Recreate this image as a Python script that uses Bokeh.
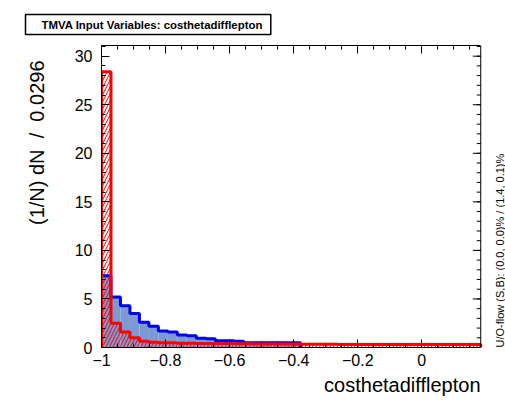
import numpy as np
from bokeh.plotting import figure
from bokeh.models import LinearAxis, FixedTicker, Range1d, Title, Label
from bokeh.embed import file_html
from bokeh.resources import INLINE

# ---- data ----
bin_lo = -1.0
bin_width = 0.0296
signal = [7.4, 5.2, 4.3, 3.5, 2.6, 2.2, 1.7, 1.6, 1.3, 1.2,
          0.95, 0.9, 0.7, 0.7, 0.65, 0.5, 0.5, 0.5, 0.5, 0.5,
          0.5, 0.0, 0.0, 0.0, 0.0, 0.0, 0.0, 0.0, 0.0, 0.0,
          0.0, 0.0, 0.0, 0.0, 0.0, 0.0, 0.0, 0.0, 0.0, 0.0]
background = [28.4, 2.5, 1.6, 1.0, 0.65, 0.55, 0.5, 0.5, 0.45, 0.45,
              0.4, 0.4, 0.4, 0.4, 0.38, 0.38, 0.36, 0.36, 0.35, 0.35,
              0.35, 0.34, 0.34, 0.33, 0.33, 0.32, 0.32, 0.32, 0.31, 0.31,
              0.3, 0.3, 0.3, 0.3, 0.3, 0.3, 0.3, 0.3, 0.3, 0.3]
x_ticks = [-1.0, -0.8, -0.6, -0.4, -0.2, 0.0]
x_tick_labels = ["\u22121", "\u22120.8", "\u22120.6", "\u22120.4", "\u22120.2", "0"]
y_ticks = [0, 5, 10, 15, 20, 25, 30]
y_tick_labels = ["0", "5", "10", "15", "20", "25", "30"]
title_text = "TMVA Input Variables: costhetadifflepton"
x_title = "costhetadifflepton"
y_title = "(1/N) dN \u00a0/ \u00a00.0296"
flow_text = "U/O-flow (S,B): (0.0, 0.0)% / (1.4, 0.1)%"

n = len(signal)
edges = bin_lo + bin_width * np.arange(n + 1)
x_max = edges[-1]
y_max = 31.1

# frame geometry (pixels): histogram area 383 px wide, extra 25 px strip on the right
hist_px = 383.0
strip_px = 25.0
x_span = x_max - bin_lo
x_end = x_max + x_span * strip_px / hist_px
dx_major = x_span * 8 / hist_px
dx_minor = x_span * 4 / hist_px

p = figure(width=505, height=400, output_backend="svg", toolbar_location=None,
           x_range=Range1d(bin_lo, x_end), y_range=Range1d(0, y_max),
           min_border_left=97, min_border_right=0, min_border_top=45,
           min_border_bottom=53, x_axis_location=None, y_axis_location=None)
p.background_fill_color = "white"
p.border_fill_color = "white"
p.outline_line_color = None
p.xgrid.visible = False
p.ygrid.visible = False

def outline(vals):
    vals = np.asarray(vals, float)
    nz = np.nonzero(vals)[0]
    last = nz[-1] + 1 if len(nz) else len(vals)
    e = edges[:last + 1]
    xs = np.repeat(e, 2)
    ys = np.concatenate([[0.0], np.repeat(vals[:last], 2), [0.0]])
    return xs, ys

# fills
p.quad(left=edges[:-1], right=edges[1:], bottom=0, top=signal,
       fill_color="#7d99d1", line_color=None)
p.quad(left=edges[:-1], right=edges[1:], bottom=0, top=background,
       fill_alpha=0, hatch_pattern="/", hatch_color="#ff0000",
       hatch_scale=7, hatch_weight=1, line_color=None)
sx, sy = outline(signal)
p.line(sx, sy, line_color="#0000ee", line_width=3)
bx, by = outline(background)
p.line(bx, by, line_color="#ff0000", line_width=3)

# axes
x_minor = list(np.round(np.arange(-1.0, 0.2, 0.05), 3))
y_minor = list(range(0, 32))
xt = FixedTicker(ticks=x_ticks, minor_ticks=x_minor)
yt = FixedTicker(ticks=y_ticks, minor_ticks=y_minor)

def style(ax, labels):
    ax.axis_line_color = "black"
    ax.major_tick_in = 8
    ax.major_tick_out = 0
    ax.minor_tick_in = 4
    ax.minor_tick_out = 0
    ax.major_tick_line_color = "black"
    ax.minor_tick_line_color = "black"
    ax.major_tick_line_width = 1
    ax.minor_tick_line_width = 1
    if labels:
        ax.major_label_text_font = "Liberation Sans"
        ax.major_label_text_font_size = "16px"
        ax.major_label_text_color = "black"
    else:
        ax.major_label_text_font_size = "1px"
        ax.major_label_text_color = None
        ax.major_label_standoff = 0

bottom = LinearAxis(ticker=xt, bounds=(bin_lo, x_max),
                    major_label_overrides=dict(zip(x_ticks, x_tick_labels)))
style(bottom, True)
bottom.major_label_standoff = 6
p.add_layout(bottom, "below")
p.add_layout(Title(text=x_title, align="right", offset=strip_px, standoff=7,
                   text_font="Liberation Sans", text_font_style="normal",
                   text_font_size="20px", text_color="black"), "below")

top = LinearAxis(ticker=xt, bounds=(bin_lo, x_max))
style(top, False)
p.add_layout(top, "above")
p.add_layout(Title(text=title_text, align="left", offset=-76, standoff=22,
                   text_font="Liberation Sans", text_font_style="bold",
                   text_font_size="11.4px", text_color="black",
                   border_line_color="black", border_line_width=1.5,
                   background_fill_color="white",
                   padding=dict(left=16, right=8, top=4, bottom=4)), "above")

left = LinearAxis(ticker=yt, major_label_overrides=dict(zip(y_ticks, y_tick_labels)))
style(left, True)
left.major_label_standoff = 9
p.add_layout(left, "left")
p.add_layout(Title(text=y_title, align="right", offset=15, standoff=47,
                   text_font="Liberation Sans", text_font_style="normal",
                   text_font_size="20px", text_color="black"), "left")

# right frame edge with inward ticks
p.segment(x0=[x_max], y0=[0], x1=[x_max], y1=[y_max], line_color="black", line_width=1)
p.segment(x0=[x_max - dx_major] * len(y_ticks), y0=y_ticks,
          x1=[x_max] * len(y_ticks), y1=y_ticks, line_color="black", line_width=1)
p.segment(x0=[x_max - dx_minor] * len(y_minor), y0=y_minor,
          x1=[x_max] * len(y_minor), y1=y_minor, line_color="black", line_width=1)

# under/overflow note, drawn inside the extra strip
p.add_layout(Label(x=hist_px + 15, y=0, x_units="screen", y_units="screen",
                   text=flow_text, angle=np.pi / 2, text_font="Liberation Sans",
                   text_font_size="11px", text_color="black",
                   text_align="left", text_baseline="middle"))

open("out.html", "w").write(file_html(p, INLINE))
